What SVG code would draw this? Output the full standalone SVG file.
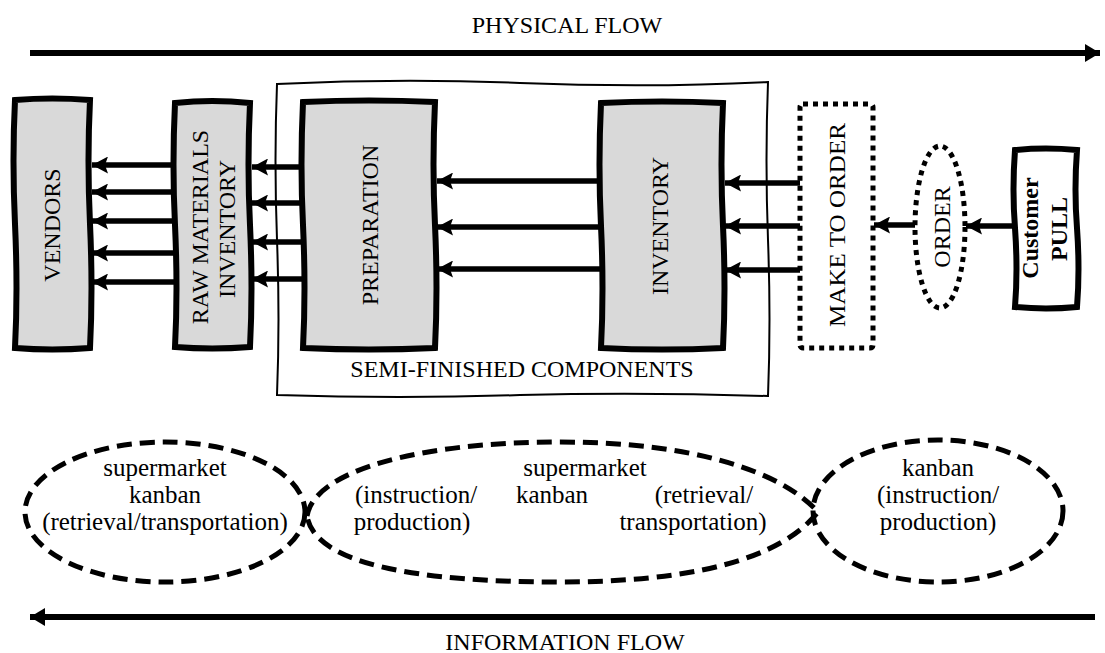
<svg xmlns="http://www.w3.org/2000/svg" width="1105" height="653" viewBox="0 0 1105 653">
<style>
text{font-family:"Liberation Serif","Times New Roman",serif;fill:#000}
.lbl{font-size:24px;text-anchor:middle}
.big{font-size:24px;text-anchor:middle}
.el{font-size:25px;text-anchor:middle}
.box{fill:#d9d9d9;stroke:#000;stroke-width:6;stroke-linejoin:miter}
.thin{fill:none;stroke:#000;stroke-width:2}
.dot{fill:#fff;stroke:#000;stroke-width:5;stroke-dasharray:5 5}
.dash{fill:none;stroke:#000;stroke-width:5;stroke-dasharray:15 8}
.arr{stroke:#000;stroke-width:5.5;fill:none;marker-end:url(#ah)}
.flow{stroke:#000;stroke-width:6;fill:none;marker-end:url(#fh)}
</style>
<defs>
<marker id="ah" markerUnits="userSpaceOnUse" markerWidth="17" markerHeight="17" refX="16" refY="8.5" orient="auto">
<path d="M0,0 L16,8.5 L0,17 L3,8.5 Z" fill="#000"/>
</marker>
<marker id="fh" markerUnits="userSpaceOnUse" markerWidth="16" markerHeight="18" refX="15" refY="9" orient="auto">
<path d="M0,0 L15,9 L0,18 Z" fill="#000"/>
</marker>
</defs>
<rect width="1105" height="653" fill="#fff"/>

<g id="physical-flow">
<text class="big" x="567" y="33">PHYSICAL FLOW</text>
<line class="flow" x1="30" y1="53" x2="1100" y2="53"/>
</g>

<g id="semi-finished">
<path class="thin" d="M277,84 Q400,78 520,83 Q650,88 768,82 Q765,160 768,240 Q771,320 768,396 Q640,392 520,395 Q400,399 277,395 Q280,320 277,240 Q274,160 277,84 Z"/>
<text class="lbl" x="522" y="377">SEMI-FINISHED COMPONENTS</text>
</g>

<g id="vendors">
<path class="box" d="M15,100 Q52,97 90,100 Q87,160 90,224 Q93,290 90,348 Q52,351 15,348 Q18,290 15,224 Q12,160 15,100 Z"/>
<text class="lbl" transform="translate(60,225) rotate(-90)">VENDORS</text>
</g>

<g id="raw-materials">
<path class="box" d="M175,103 Q212,99 250,103 Q247,165 250,225 Q253,290 250,347 Q212,350 175,347 Q178,290 175,225 Q172,165 175,103 Z"/>
<text class="lbl" transform="translate(208,227) rotate(-90)">RAW MATERIALS</text>
<text class="lbl" transform="translate(235,229) rotate(-90)">INVENTORY</text>
</g>

<g id="preparation">
<path class="box" d="M303,102 Q369,99 435,102 Q432,165 435,225 Q438,290 435,348 Q369,351 303,348 Q306,290 303,225 Q300,165 303,102 Z"/>
<text class="lbl" transform="translate(378,225) rotate(-90)">PREPARATION</text>
</g>

<g id="inventory">
<path class="box" d="M601,103 Q662,100 723,103 Q720,165 723,226 Q726,290 723,348 Q662,351 601,348 Q604,290 601,226 Q598,165 601,103 Z"/>
<text class="lbl" transform="translate(668,226) rotate(-90)">INVENTORY</text>
</g>

<g id="make-to-order">
<rect class="dot" x="800" y="104" width="73" height="244" rx="3"/>
<text class="lbl" transform="translate(845,225) rotate(-90)" textLength="204" lengthAdjust="spacingAndGlyphs">MAKE TO ORDER</text>
</g>

<g id="order">
<ellipse class="dot" cx="940" cy="227" rx="25" ry="81"/>
<text class="lbl" transform="translate(950,227) rotate(-90)">ORDER</text>
</g>

<g id="customer-pull">
<path d="M1015,150 Q1046,147 1077,150 Q1074,190 1077,228 Q1080,270 1077,307 Q1046,310 1015,307 Q1018,270 1015,228 Q1012,190 1015,150 Z" fill="#fff" stroke="#000" stroke-width="6"/>
<text class="lbl" font-weight="bold" transform="translate(1038,228) rotate(-90)">Customer</text>
<text class="lbl" font-weight="bold" transform="translate(1067,229) rotate(-90)">PULL</text>
</g>

<g id="connectors">
<line class="arr" x1="175" y1="165" x2="92" y2="165"/>
<line class="arr" x1="175" y1="192" x2="92" y2="192"/>
<line class="arr" x1="175" y1="221" x2="92" y2="221"/>
<line class="arr" x1="175" y1="253" x2="92" y2="253"/>
<line class="arr" x1="175" y1="282" x2="92" y2="282"/>
<line class="arr" x1="303" y1="167" x2="252" y2="167"/>
<line class="arr" x1="303" y1="203" x2="252" y2="203"/>
<line class="arr" x1="303" y1="242" x2="252" y2="242"/>
<line class="arr" x1="303" y1="279" x2="252" y2="279"/>
<line class="arr" x1="601" y1="181" x2="437" y2="181"/>
<line class="arr" x1="601" y1="227" x2="437" y2="227"/>
<line class="arr" x1="601" y1="269" x2="437" y2="269"/>
<line class="arr" x1="800" y1="183" x2="725" y2="183"/>
<line class="arr" x1="800" y1="226" x2="725" y2="226"/>
<line class="arr" x1="800" y1="270" x2="725" y2="270"/>
<line class="arr" x1="915" y1="225" x2="874" y2="225"/>
<line class="arr" x1="1013" y1="226" x2="966" y2="226"/>
</g>

<g id="kanban-left">
<ellipse class="dash" cx="165" cy="512" rx="140" ry="70"/>
<text class="el" x="165" y="476">supermarket</text>
<text class="el" x="165" y="503">kanban</text>
<text class="el" x="165" y="530">(retrieval/transportation)</text>
</g>

<g id="kanban-middle">
<path class="dash" d="M307,516 C315,470 420,442 560,442 C690,442 780,470 818,512 C780,560 690,582 560,582 C420,582 315,565 307,516 Z"/>
<text class="el" x="585" y="476">supermarket</text>
<text class="el" x="552" y="503">kanban</text>
<text class="el" x="416" y="503">(instruction/</text>
<text class="el" x="412" y="530">production)</text>
<text class="el" x="704" y="503">(retrieval/</text>
<text class="el" x="693" y="530">transportation)</text>
</g>

<g id="kanban-right">
<ellipse class="dash" cx="938" cy="511" rx="125" ry="71"/>
<text class="el" x="938" y="476">kanban</text>
<text class="el" x="938" y="503">(instruction/</text>
<text class="el" x="938" y="530">production)</text>
</g>

<g id="information-flow">
<line class="flow" x1="1095" y1="617" x2="30" y2="617"/>
<text class="big" x="565" y="650">INFORMATION FLOW</text>
</g>
</svg>
